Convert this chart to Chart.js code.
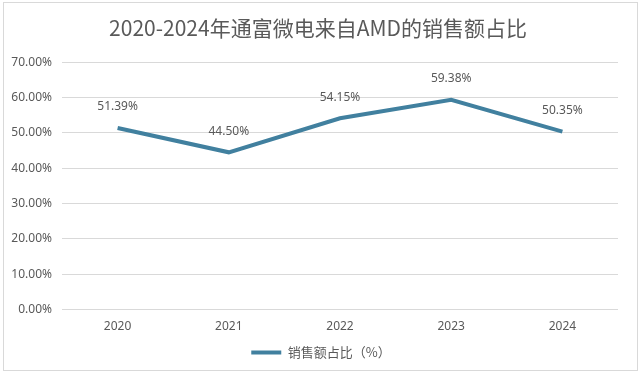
<!DOCTYPE html>
<html lang="zh">
<head>
<meta charset="UTF-8">
<title>通富微电 AMD 销售额占比</title>
<script src="https://cdn.jsdelivr.net/npm/chart.js@4.4.1/dist/chart.umd.min.js"></script>
<style>
    html, body { margin: 0; padding: 0; background: #fff; }
    #wrap { position: relative; width: 640px; height: 376px; }
    #frame {
        position: absolute; left: 3px; top: 2px; width: 633px; height: 367px;
        border: 1px solid #d9d9d9; pointer-events: none;
    }
</style>
</head>
<body>
<div id="wrap">
    <canvas id="chart" width="640" height="376"></canvas>
    <div id="frame"></div>
</div>
<script>
    var years = ["2020", "2021", "2022", "2023", "2024"];
    var shares = [51.39, 44.50, 54.15, 59.38, 50.35];
    var seriesName = "销售额占比（%）";
    var titleText = "2020-2024年通富微电来自AMD的销售额占比";

    var lineColor = "#41809f";
    var textColor = "#595959";
    var numFont = "'Noto Sans', 'Noto Sans CJK SC', sans-serif";
    var cjkFont = "'Noto Sans CJK SC', 'Noto Sans', sans-serif";

    // value labels above each point
    var pointLabels = {
        id: "pointLabels",
        afterDatasetsDraw: function(chart) {
            var ctx = chart.ctx;
            var meta = chart.getDatasetMeta(0);
            ctx.save();
            ctx.font = "12px " + numFont;
            ctx.fillStyle = textColor;
            ctx.textAlign = "center";
            ctx.textBaseline = "middle";
            meta.data.forEach(function(pt, i) {
                ctx.fillText(shares[i].toFixed(2) + "%", pt.x, pt.y - 21);
            });
            ctx.restore();
        }
    };

    // title and legend sit centred on the whole frame, not the padded area
    var nudge = {
        id: "nudge",
        afterLayout: function(chart) {
            chart.titleBlock.left += 5;
            chart.titleBlock.right += 5;
            chart.legend.left += 8;
            chart.legend.right += 8;
        }
    };

    new Chart(document.getElementById("chart"), {
        type: "line",
        data: {
            labels: years,
            datasets: [{
                label: seriesName,
                data: shares,
                borderColor: lineColor,
                backgroundColor: lineColor,
                borderWidth: 4,
                pointRadius: 0,
                tension: 0,
                fill: false
            }]
        },
        options: {
            responsive: false,
            animation: false,
            layout: { padding: { left: 8, right: 22, top: 0, bottom: 7 } },
            plugins: {
                title: {
                    display: true,
                    text: titleText,
                    color: textColor,
                    font: { family: cjkFont, size: 21, weight: "normal" },
                    padding: { top: 15, bottom: 22 }
                },
                legend: {
                    position: "bottom",
                    labels: {
                        color: textColor,
                        font: { family: cjkFont, size: 13 },
                        boxWidth: 30,
                        boxHeight: 4,
                        padding: 10,
                        generateLabels: function(chart) {
                            return Chart.defaults.plugins.legend.labels.generateLabels(chart).map(function(l) {
                                l.lineWidth = 0;
                                l.fillStyle = lineColor;
                                return l;
                            });
                        }
                    }
                },
                tooltip: { enabled: false }
            },
            scales: {
                x: {
                    offset: true,
                    grid: { display: false },
                    border: { display: false },
                    ticks: { color: textColor, font: { family: numFont, size: 12 }, padding: 2 }
                },
                y: {
                    min: 0,
                    max: 70,
                    afterFit: function(scale) { scale.width = 54; },
                    grid: { color: "#d9d9d9", drawTicks: false },
                    border: { display: false },
                    ticks: {
                        stepSize: 10,
                        color: textColor,
                        font: { family: numFont, size: 12 },
                        padding: 10,
                        callback: function(v) { return v.toFixed(2) + "%"; }
                    }
                }
            }
        },
        plugins: [pointLabels, nudge]
    });
</script>
</body>
</html>
